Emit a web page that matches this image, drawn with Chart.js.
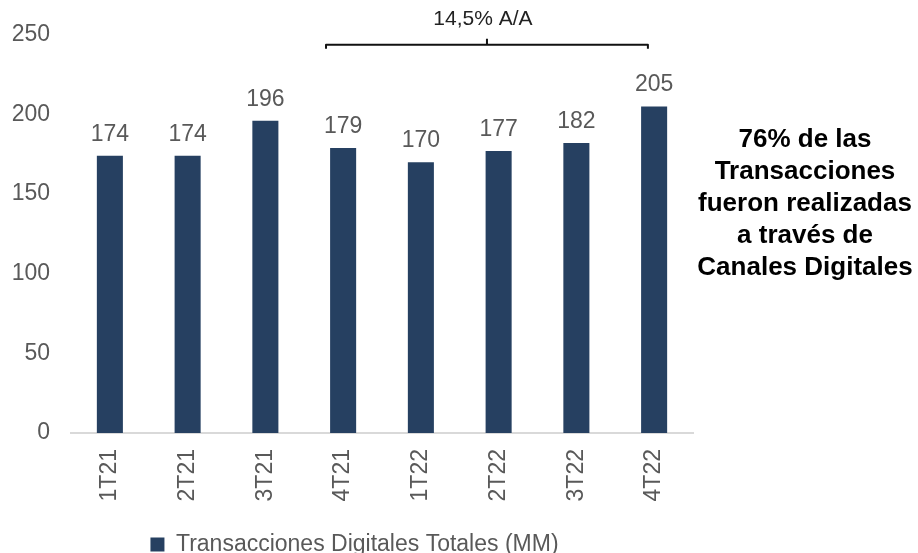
<!DOCTYPE html>
<html lang="es">
<head>
<meta charset="utf-8">
<title>Transacciones Digitales Totales</title>
<script src="https://cdn.jsdelivr.net/npm/chart.js@4.4.1/dist/chart.umd.min.js"></script>
<style>
html, body { margin: 0; padding: 0; background: #fff; }
#wrap { position: relative; width: 918px; height: 553px; }
</style>
</head>
<body>
<div id="wrap"><canvas id="chart"></canvas></div>
<script>
// datos
const categories = ['1T21', '2T21', '3T21', '4T21', '1T22', '2T22', '3T22', '4T22'];
const transacciones = [174, 174, 196, 179, 170, 177, 182, 205];
const yTicks = [0, 50, 100, 150, 200, 250];
const seriesName = 'Transacciones Digitales Totales (MM)';
const growthLabel = '14,5% A/A';
const growthFrom = 3;   // 4T21
const growthTo = 7;     // 4T22
const noteLines = ['76% de las', 'Transacciones', 'fueron realizadas', 'a través de', 'Canales Digitales'];

const BAR = '#264061';
const GRAY = '#595959';
const FONT = "'Liberation Sans', Arial, sans-serif";

// etiquetas de valor encima de cada barra
const valueLabels = {
    id: 'valueLabels',
    afterDatasetsDraw(chart) {
        const ctx = chart.ctx;
        const meta = chart.getDatasetMeta(0);
        ctx.save();
        ctx.font = `23px ${FONT}`;
        ctx.fillStyle = GRAY;
        ctx.textAlign = 'center';
        ctx.textBaseline = 'alphabetic';
        meta.data.forEach((bar, i) => ctx.fillText(String(transacciones[i]), bar.x, bar.y - 15));
        ctx.restore();
    }
};

// llave de crecimiento A/A
const growthBracket = {
    id: 'growthBracket',
    afterDraw(chart) {
        const ctx = chart.ctx;
        const x = chart.scales.x;
        const step = x.getPixelForValue(1) - x.getPixelForValue(0);
        const x0 = x.getPixelForValue(growthFrom) - step * 0.22;
        const x1 = x.getPixelForValue(growthTo) - step * 0.08;
        const xm = (x0 + x1) / 2;
        const yl = chart.chartArea.top + 10;
        ctx.save();
        ctx.strokeStyle = '#111';
        ctx.lineWidth = 2;
        ctx.lineJoin = 'round';
        ctx.beginPath();
        ctx.moveTo(x0, yl + 4);
        ctx.lineTo(x0, yl);
        ctx.lineTo(x1, yl);
        ctx.lineTo(x1, yl + 4);
        ctx.moveTo(xm, yl);
        ctx.lineTo(xm, yl - 6);
        ctx.stroke();
        ctx.font = `21px ${FONT}`;
        ctx.fillStyle = '#222';
        ctx.textAlign = 'center';
        ctx.textBaseline = 'middle';
        ctx.fillText(growthLabel, xm - 4, yl - 26);
        ctx.restore();
    }
};

// texto a la derecha
const sideNote = {
    id: 'sideNote',
    afterDraw(chart) {
        const ctx = chart.ctx;
        ctx.save();
        ctx.font = `bold 26px ${FONT}`;
        ctx.fillStyle = '#000';
        ctx.textAlign = 'center';
        ctx.textBaseline = 'alphabetic';
        noteLines.forEach((t, i) => ctx.fillText(t, chart.width - 113, 147 + i * 32));
        ctx.restore();
    }
};

// baja un poco la leyenda, como en el original
const legendShift = {
    id: 'legendShift',
    afterLayout(chart) {
        const l = chart.legend;
        l.top += 13; l.bottom += 13;
        l.left += 8; l.right += 8;
    }
};

new Chart(document.getElementById('chart'), {
    type: 'bar',
    data: {
        labels: categories,
        datasets: [{
            label: seriesName,
            data: transacciones,
            backgroundColor: BAR,
            borderWidth: 0,
            categoryPercentage: 1,
            barPercentage: 0.335
        }]
    },
    options: {
        responsive: true,
        maintainAspectRatio: false,
        animation: false,
        layout: { padding: { top: 33, right: 225, left: 0, bottom: 0 } },
        plugins: {
            legend: {
                position: 'bottom',
                labels: { boxWidth: 14, boxHeight: 14, color: GRAY, font: { size: 23, family: FONT }, padding: 6 }
            },
            tooltip: { enabled: false }
        },
        scales: {
            x: {
                grid: { display: false, drawTicks: false },
                border: { display: true, color: '#d9d9d9', width: 2 },
                ticks: { color: GRAY, font: { size: 23, family: FONT }, minRotation: 90, maxRotation: 90, padding: 16 },
                afterFit: s => { s.height = s.chart.height - s.chart.legend.height - 433; }
            },
            y: {
                min: 0,
                max: 250,
                grid: { display: false, drawTicks: false },
                border: { display: false },
                ticks: { color: GRAY, font: { size: 23, family: FONT }, padding: 21 },
                afterBuildTicks: s => { s.ticks = yTicks.map(v => ({ value: v })); },
                afterFit: s => { s.width = 71; }
            }
        }
    },
    plugins: [valueLabels, growthBracket, sideNote, legendShift]
});
</script>
</body>
</html>
